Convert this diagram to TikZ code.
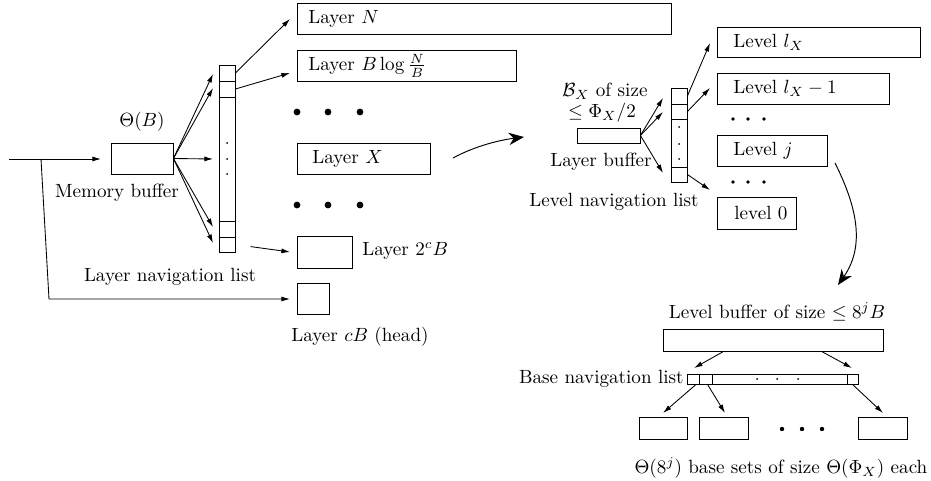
\documentclass[tikz,border=0pt]{standalone}
\usetikzlibrary{arrows.meta,fit,calc}
\begin{document}
\begin{tikzpicture}[x=0.523pt,y=-0.523pt,
  box/.style={draw, inner sep=0pt, line width=0.45pt},
  arr/.style={-{Latex[length=4.5pt,width=2.6pt]}, line width=0.45pt},
  bigarr/.style={-{Stealth[length=8pt,width=6.5pt]}, line width=0.5pt},
  lbl/.style={inner sep=0pt}]
\useasboundingbox (0,0) rectangle (931,481);

% ---------- left part ----------
\node[box, fit={(111,143) (173,174)}] (mb) {};
\node[lbl] (thb) at (142,122) {$\Theta(B)$};
\node[lbl] (mbl) at (117,193) {Memory buffer};

\node[box, fit={(219,65) (235,81)}] (c1) {};
\node[box, fit={(219,81) (235,97)}] (c2) {};
\node[box, fit={(219,97) (235,221)}] (cm) {};
\node[box, fit={(219,221) (235,237)}] (c3) {};
\node[box, fit={(219,237) (235,252)}] (c4) {};
\foreach \yy in {143,159,174} \fill (227,\yy) circle (1);
\node[lbl] (lnl) at (170,277) {Layer navigation list};

\node[box, fit={(297,3) (671,34)}] (LN) {};
\node[lbl, anchor=west] (LNt) at (308,18.5) {Layer $N$};
\node[box, fit={(297,50) (516,81)}] (LB) {};
\node[lbl, anchor=west] (LBt) at (308,65.5) {Layer $B\log\frac{N}{B}$};
\foreach \xx in {297,328,360} \fill (\xx,112) circle (3.4);
\node[box, fit={(297,143) (430,174)}] (LX) {};
\node[lbl, anchor=west] (LXt) at (312,158.5) {Layer $X$};
\foreach \xx in {297,328,360} \fill (\xx,205) circle (3.4);
\node[box, fit={(297,236) (352,268)}] (L2) {};
\node[lbl, anchor=west] (L2t) at (362,251) {Layer $2^cB$};
\node[box, fit={(297,283) (329,314)}] (LC) {};
\node[lbl] (LCt) at (360,337) {Layer $cB$ (head)};

\coordinate (in) at (9,159);
\coordinate (br) at (41,159);
\coordinate (bk) at (49,299);
\coordinate (tin) at (101,159);
\coordinate (tcb) at (290,299);
\draw[arr] (in) -- (tin);
\draw[arr] (br) -- (bk) -- (tcb);

\coordinate (t1) at (213,74);
\coordinate (t2) at (213,88);
\coordinate (t3) at (213,159);
\coordinate (t4) at (213,227);
\coordinate (t5) at (213,243);
\foreach \t in {t1,t2,t3,t4,t5} \draw[arr] (mb.east) -- (\t);

\coordinate (u1) at (290,19);
\coordinate (u2) at (290,73);
\coordinate (u3) at (290,252);
\draw[arr] (c1.east) -- (u1);
\draw[arr] (c2.east) -- (u2);
\draw[arr, shorten <=8] (c4.east) -- (u3);

% ---------- curved arrow to middle ----------
\coordinate (cs) at (453,158);
\coordinate (ce) at (524,137);
\draw[bigarr] (cs) .. controls (475,146) and (500,140) .. (ce);

% ---------- middle part ----------
\node[box, fit={(577,128) (640,143)}] (lb) {};
\node[lbl] (bx1) at (605,91) {$\mathcal{B}_X$ of size};
\node[lbl] (bx2) at (602,113) {$\le \Phi_X/2$};
\node[lbl] (lbt) at (601,162) {Layer buffer};

\node[box, fit={(671,88) (687,104)}] (d1) {};
\node[box, fit={(671,104) (687,119)}] (d2) {};
\node[box, fit={(671,119) (687,167)}] (dm) {};
\node[box, fit={(671,167) (687,182)}] (d3) {};
\foreach \yy in {127,144,159} \fill (679,\yy) circle (1);
\node[lbl] (lvnl) at (614,202) {Level navigation list};

\coordinate (v1) at (663,98);
\coordinate (v2) at (663,112);
\coordinate (v3) at (663,173);
\foreach \t in {v1,v2,v3} \draw[arr] (lb.east) -- (\t);

\node[box, fit={(717,27) (920,57)}] (lx) {};
\node[lbl, anchor=west] (lxt) at (733,42) {Level $l_X$};
\node[box, fit={(717,73) (889,104)}] (lx1) {};
\node[lbl, anchor=west] (lx1t) at (733,88.5) {Level $l_X-1$};
\foreach \xx in {733,748,764} \fill (\xx,119) circle (1.9);
\node[box, fit={(717,135) (827,166)}] (lj) {};
\node[lbl, anchor=west] (ljt) at (733,150.5) {Level $j$};
\foreach \xx in {733,748,764} \fill (\xx,182) circle (1.9);
\node[box, fit={(717,197) (796,229)}] (l0) {};
\node[lbl, anchor=west] (l0t) at (734,213) {level 0};

\coordinate (w1) at (710,43);
\coordinate (w2) at (710,88);
\coordinate (w3) at (710,190);
\draw[arr] (d1.east) -- (w1);
\draw[arr] (d2.east) -- (w2);
\draw[arr] (d3.east) -- (w3);

% ---------- curved arrow down ----------
\coordinate (js) at (835,163);
\coordinate (je) at (838,285);
\draw[bigarr] (js) .. controls (856,205) and (866,245) .. (je);

% ---------- bottom part ----------
\node[lbl] (lbft) at (777,312) {Level buffer of size $\le 8^jB$};
\node[box, fit={(663,329) (883,351)}] (lbuf) {};

\node[box, fit={(687,374) (699,384)}] (e1) {};
\node[box, fit={(699,374) (712,384)}] (e2) {};
\node[box, fit={(712,374) (847,384)}] (em) {};
\node[box, fit={(847,374) (858,384)}] (e3) {};
\foreach \xx in {757,777,798} \fill (\xx,379) circle (1);
\node[lbl, anchor=east] (bnl) at (684,379) {Base navigation list};

\coordinate (x1) at (694,368);
\coordinate (x2) at (852,368);
\draw[arr] ($(lbuf.south west)+(61,0)$) -- (x1);
\draw[arr] ($(lbuf.south west)+(159,0)$) -- (x2);

\node[box, fit={(639,417) (687,439)}] (b1) {};
\node[box, fit={(699,417) (748,439)}] (b2) {};
\node[box, fit={(858,417) (907,439)}] (b3) {};
\foreach \xx in {782,802,822} \fill (\xx,429) circle (2.2);

\coordinate (y1) at (663,413);
\coordinate (y2) at (725,413);
\coordinate (y3) at (883,413);
\draw[arr] ($(e1.south)+(3,0)$) -- (y1);
\draw[arr] ($(e2.south)+(2,0)$) -- (y2);
\draw[arr] (e3.south) -- (y3);

\node[lbl] (cap) at (781,468) {$\Theta(8^j)$ base sets of size $\Theta(\Phi_X)$ each};
\end{tikzpicture}
\end{document}
